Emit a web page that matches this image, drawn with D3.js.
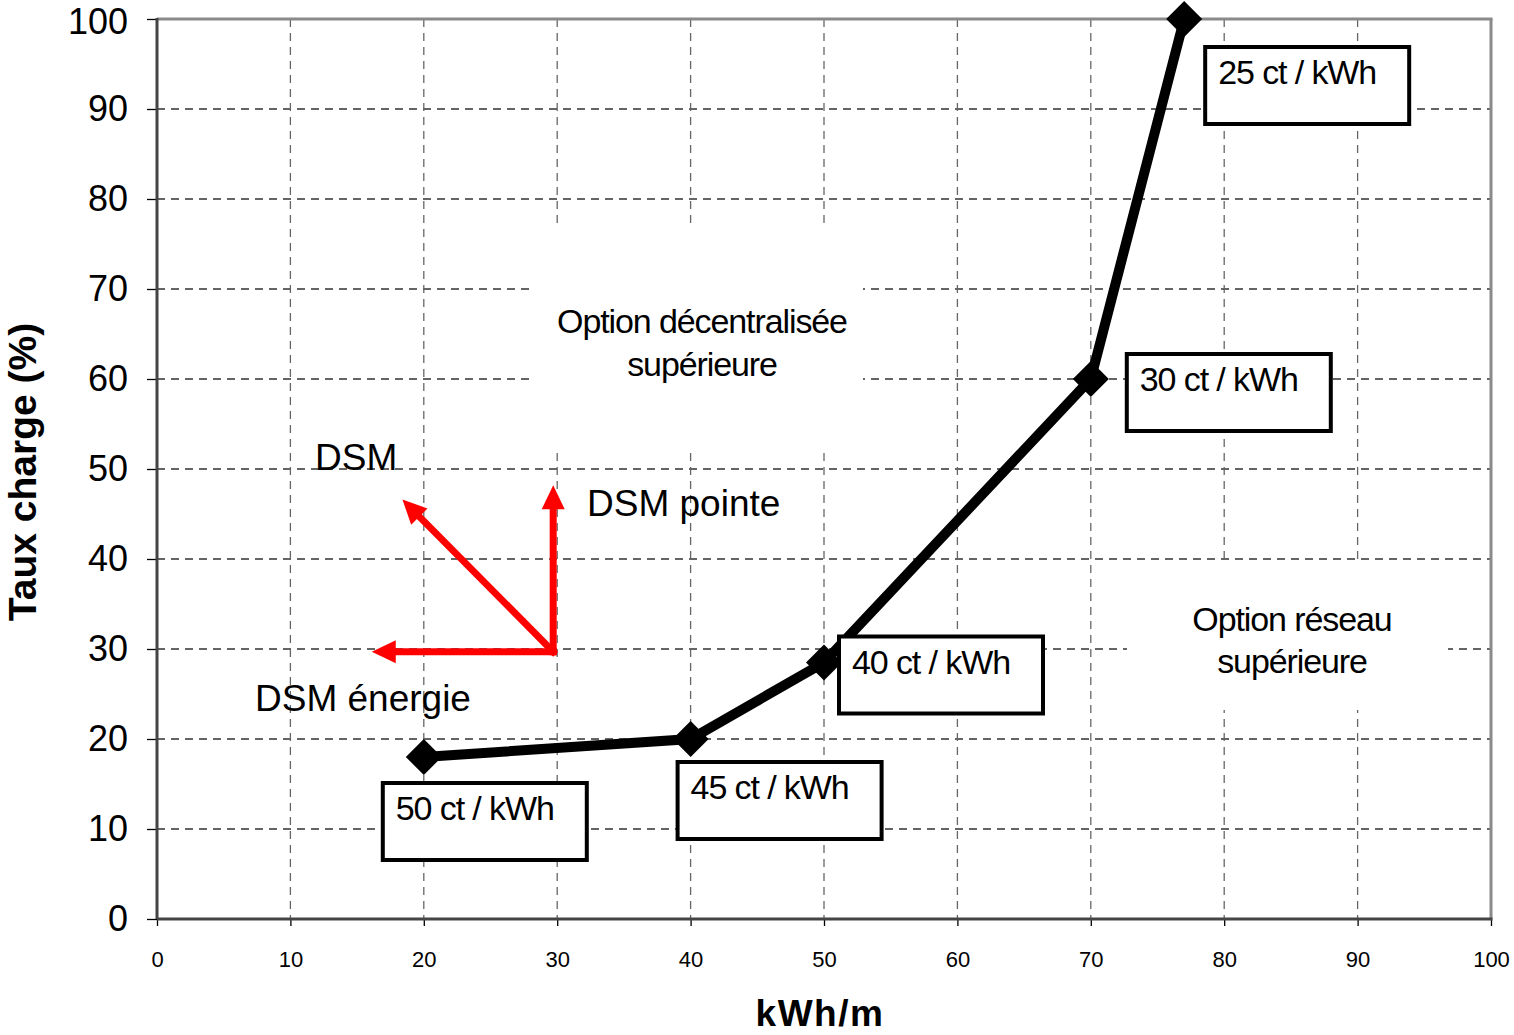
<!DOCTYPE html>
<html>
<head>
<meta charset="utf-8">
<script src="https://cdn.jsdelivr.net/npm/d3@7"></script>
<style>
  html, body { margin: 0; padding: 0; background: #fff; }
  svg { display: block; font-family: "Liberation Sans", Arial, sans-serif; }
</style>
</head>
<body>
<svg id="chart" width="1514" height="1035"></svg>
<script>
// Consumption (kWh/m) and load factor (%) for each tariff level
const kwh = [20, 40, 50, 70, 77];
const taux = [18, 20, 28.5, 60, 100];
const tarifs = ["50 ct / kWh", "45 ct / kWh", "40 ct / kWh", "30 ct / kWh", "25 ct / kWh"];

// Axis ticks
const xTicks = [0, 10, 20, 30, 40, 50, 60, 70, 80, 90, 100];
const yTicks = [0, 10, 20, 30, 40, 50, 60, 70, 80, 90, 100];

// DSM arrows (chart units): common origin and three tips
const dsmOrigin = [29.7, 29.7];
const dsmNames = ["DSM pointe", "DSM", "DSM énergie"];
const dsmTipX = [29.7, 18.4, 16.1];
const dsmTipY = [48.2, 46.6, 29.7];

// Pixel offsets of the tariff boxes relative to their point
const boxDx = [-43, -15, 13, 34, 19];
const boxDy = [24, 21, -28, -27, 26];

const svg = d3.select("#chart");
const plotL = 157, plotR = 1491, plotT = 19, plotB = 919;

const x = d3.scaleLinear().domain([0, 100]).range([plotL, plotR]);
const y = d3.scaleLinear().domain([0, 100]).range([plotB, plotT]);

// Grid
const grid = svg.append("g");
grid.selectAll("line.h").data(yTicks.filter(d => d > 0 && d < 100)).join("line")
  .attr("x1", plotL).attr("x2", plotR)
  .attr("y1", d => y(d)).attr("y2", d => y(d))
  .attr("stroke", "#333").attr("stroke-width", 1.3)
  .attr("stroke-dasharray", "8,6");
grid.selectAll("line.v").data(xTicks.filter(d => d > 0 && d < 100)).join("line")
  .attr("y1", plotT).attr("y2", plotB)
  .attr("x1", d => x(d)).attr("x2", d => x(d))
  .attr("stroke", "#666").attr("stroke-width", 1.3)
  .attr("stroke-dasharray", "8,6");

// White backdrops behind the region captions
svg.append("rect").attr("x", 533).attr("y", 227).attr("width", 330).attr("height", 223).attr("fill", "#fff");
svg.append("rect").attr("x", 1127).attr("y", 565).attr("width", 321).attr("height", 145).attr("fill", "#fff");

// Frame
svg.append("line").attr("x1", plotL).attr("x2", plotR + 1.5).attr("y1", plotT).attr("y2", plotT)
  .attr("stroke", "#8a8a8a").attr("stroke-width", 3);
svg.append("line").attr("x1", plotR).attr("x2", plotR).attr("y1", plotT).attr("y2", plotB)
  .attr("stroke", "#8a8a8a").attr("stroke-width", 3);

// Axes
const yAxis = d3.axisLeft(y).tickValues(yTicks).tickSize(10).tickSizeOuter(0).tickPadding(19);
const xAxis = d3.axisBottom(x).tickValues(xTicks).tickSize(7).tickSizeOuter(0).tickPadding(25);

const gy = svg.append("g").attr("transform", `translate(${plotL},0)`).call(yAxis);
gy.select(".domain").remove();
gy.selectAll(".tick line").attr("stroke", "#000").attr("stroke-width", 1.3);
gy.selectAll(".tick text").attr("font-size", 36).attr("fill", "#000")
  .attr("font-family", "Liberation Sans, Arial, sans-serif")
  .attr("dy", d => d === 100 ? "0.4em" : "0.32em");

const gx = svg.append("g").attr("transform", `translate(0,${plotB})`).call(xAxis);
gx.select(".domain").remove();
gx.selectAll(".tick line").attr("stroke", "#000").attr("stroke-width", 1.3);
gx.selectAll(".tick text").attr("font-size", 22).attr("fill", "#000")
  .attr("font-family", "Liberation Sans, Arial, sans-serif");

svg.append("line").attr("x1", plotL).attr("x2", plotL).attr("y1", plotT - 1).attr("y2", plotB)
  .attr("stroke", "#444").attr("stroke-width", 3);
svg.append("line").attr("x1", plotL).attr("x2", plotR + 1.5).attr("y1", plotB).attr("y2", plotB)
  .attr("stroke", "#444").attr("stroke-width", 3);

// Axis titles
svg.append("text").attr("x", 820).attr("y", 1026).attr("text-anchor", "middle")
  .attr("font-size", 37).attr("font-weight", "bold").attr("letter-spacing", 1.5)
  .text("kWh/m");
svg.append("text").attr("transform", "translate(36,472) rotate(-90)").attr("text-anchor", "middle")
  .attr("font-size", 39).attr("font-weight", "bold")
  .text("Taux charge (%)");

// Region captions
const cap1 = svg.append("text").attr("text-anchor", "middle").attr("font-size", 34).attr("letter-spacing", -1.1);
cap1.append("tspan").attr("x", 702).attr("y", 333).text("Option décentralisée");
cap1.append("tspan").attr("x", 702).attr("y", 376).text("supérieure");
const cap2 = svg.append("text").attr("text-anchor", "middle").attr("font-size", 34).attr("letter-spacing", -1.1);
cap2.append("tspan").attr("x", 1292).attr("y", 631).text("Option réseau");
cap2.append("tspan").attr("x", 1292).attr("y", 673).text("supérieure");

// DSM labels
svg.append("text").attr("x", 315).attr("y", 470).attr("font-size", 37).text(dsmNames[1]);
svg.append("text").attr("x", 587).attr("y", 516).attr("font-size", 37).text(dsmNames[0]);
svg.append("text").attr("x", 255).attr("y", 711).attr("font-size", 37).text(dsmNames[2]);

// DSM arrows
const red = "#ff0000";
const headLen = 24, headHalf = 11.5;
const ox = x(dsmOrigin[0]), oy = y(dsmOrigin[1]);
const arrows = svg.append("g");
dsmTipX.forEach((tx0, i) => {
  const tx = x(tx0), ty = y(dsmTipY[i]);
  const len = Math.hypot(tx - ox, ty - oy);
  const ux = (tx - ox) / len, uy = (ty - oy) / len;
  const bx = tx - ux * headLen, by = ty - uy * headLen;
  arrows.append("line").attr("x1", ox).attr("y1", oy).attr("x2", bx).attr("y2", by)
    .attr("stroke", red).attr("stroke-width", 7).attr("stroke-linecap", "square");
  arrows.append("path")
    .attr("d", `M${tx},${ty}L${bx - uy * headHalf},${by + ux * headHalf}L${bx + uy * headHalf},${by - ux * headHalf}Z`)
    .attr("fill", red);
});

// Curve
const pts = kwh.map((k, i) => [k, taux[i]]);
svg.append("path").datum(pts)
  .attr("d", d3.line().x(d => x(d[0])).y(d => y(d[1])))
  .attr("fill", "none").attr("stroke", "#000").attr("stroke-width", 10)
  .attr("stroke-linejoin", "miter");

svg.selectAll("path.mk").data(pts).join("path")
  .attr("class", "mk")
  .attr("transform", d => `translate(${x(d[0])},${y(d[1])}) rotate(45)`)
  .attr("d", d3.symbol(d3.symbolSquare, 648))
  .attr("fill", "#000");

// Tariff boxes
const boxW = 204, boxH = 77;
const boxes = svg.selectAll("g.box").data(pts).join("g")
  .attr("class", "box")
  .attr("transform", (d, i) => `translate(${x(d[0]) + boxDx[i]},${y(d[1]) + boxDy[i]})`);
boxes.append("rect").attr("x", 2).attr("y", 2).attr("width", boxW).attr("height", boxH)
  .attr("fill", "#fff").attr("stroke", "#000").attr("stroke-width", 4);
boxes.append("text").attr("x", 15).attr("y", 39)
  .attr("font-size", 34).attr("letter-spacing", -1.1)
  .text((d, i) => tarifs[i]);
</script>
</body>
</html>
